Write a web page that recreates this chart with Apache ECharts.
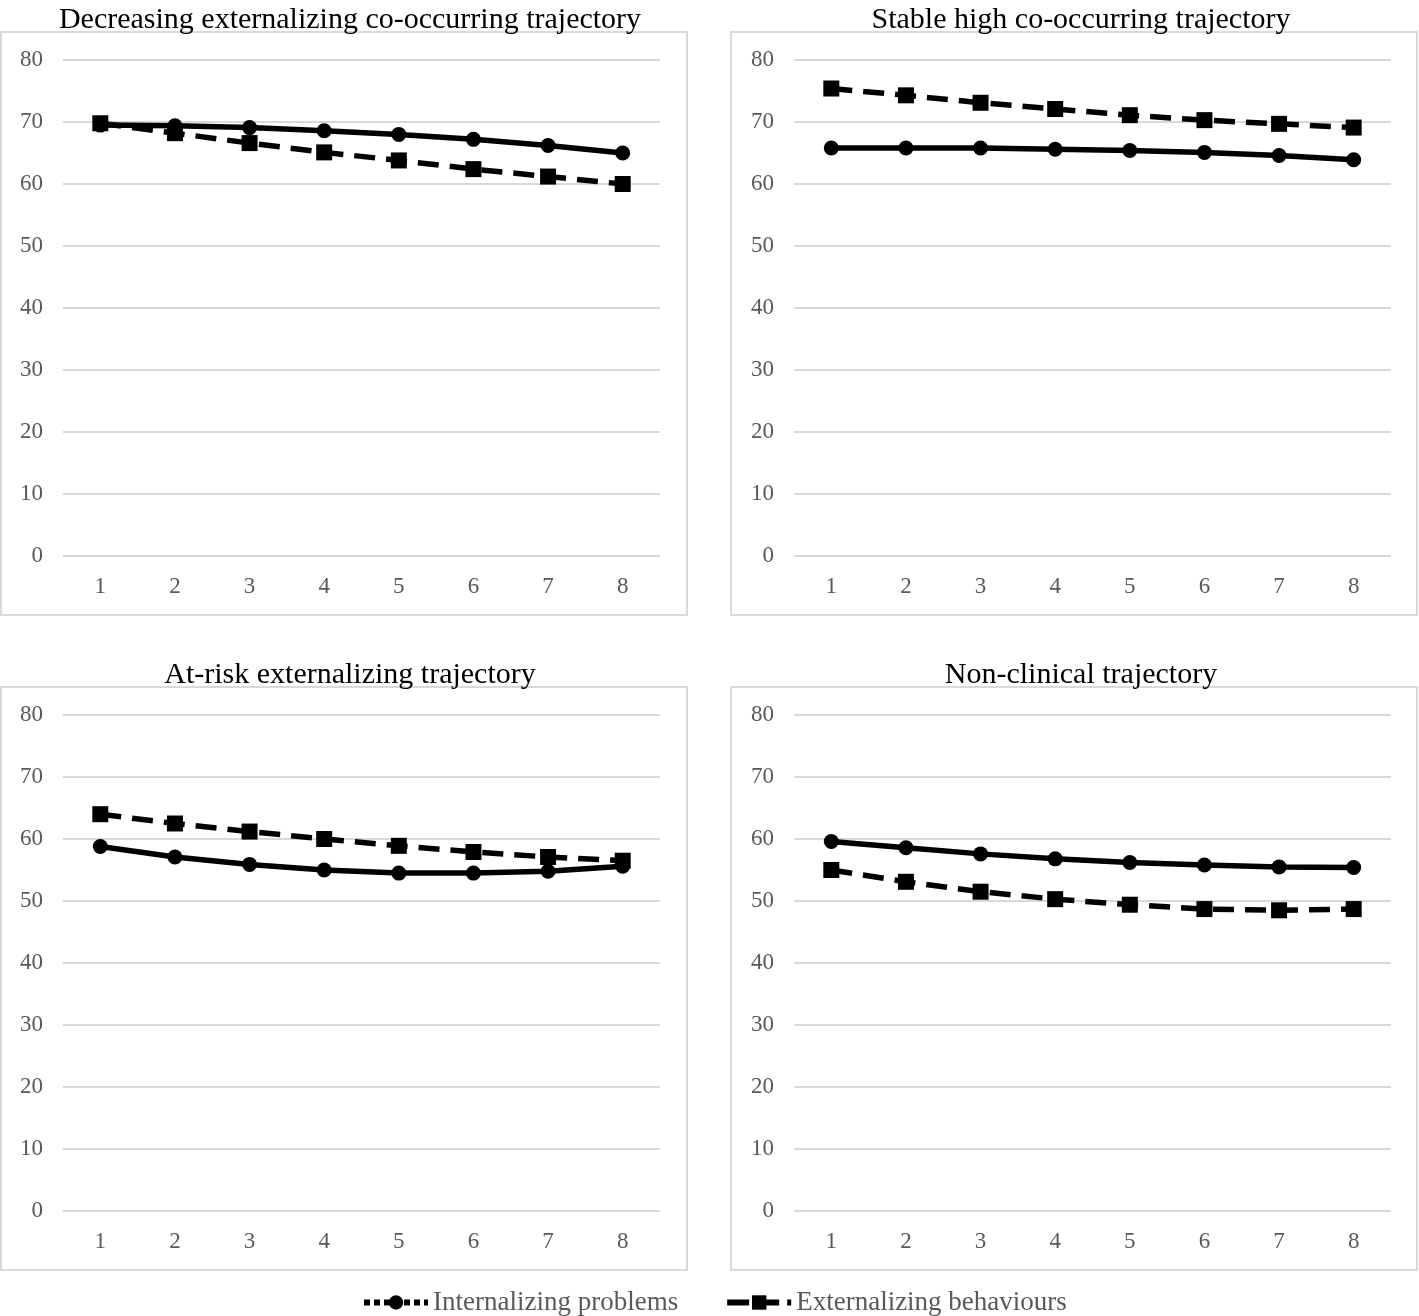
<!DOCTYPE html>
<html>
<head>
<meta charset="utf-8">
<script src="https://cdn.jsdelivr.net/npm/echarts@6/dist/echarts.min.js"></script>
<style>
  html, body { margin: 0; padding: 0; background: #fff; }
  #main { width: 1419px; height: 1316px; }
</style>
</head>
<body>
<div id="main"></div>
<script>
// 数据
var waves = ['1', '2', '3', '4', '5', '6', '7', '8'];
var panelTitles = [
  'Decreasing externalizing co-occurring trajectory',
  'Stable high co-occurring trajectory',
  'At-risk externalizing trajectory',
  'Non-clinical trajectory'
];
// solid line, circles
var internalizing = [
  [69.5, 69.4, 69.1, 68.6, 68.0, 67.2, 66.2, 65.0],
  [65.8, 65.8, 65.8, 65.6, 65.4, 65.1, 64.6, 63.9],
  [58.8, 57.1, 55.9, 55.0, 54.5, 54.5, 54.8, 55.6],
  [59.6, 58.6, 57.6, 56.8, 56.2, 55.8, 55.5, 55.4]
];
// dashed line, squares
var externalizing = [
  [69.8, 68.2, 66.6, 65.1, 63.8, 62.4, 61.2, 60.0],
  [75.4, 74.3, 73.1, 72.1, 71.1, 70.3, 69.7, 69.1],
  [64.0, 62.5, 61.2, 60.0, 58.9, 57.9, 57.1, 56.5],
  [55.0, 53.1, 51.5, 50.3, 49.4, 48.7, 48.5, 48.7]
];
var yTicks = [0, 10, 20, 30, 40, 50, 60, 70, 80];

var font = 'Liberation Serif';
var grey = '#595959';
var lineGrey = '#d9d9d9';

// 面板位置
var panels = [
  { box: [1, 32], grid: [63, 60], cx: 345, ty: 0 },
  { box: [731, 32], grid: [794, 60], cx: 1076, ty: 0 },
  { box: [1, 687], grid: [63, 715], cx: 345, ty: 655 },
  { box: [731, 687], grid: [794, 715], cx: 1076, ty: 655 }
];

var grids = [], xAxes = [], yAxes = [], series = [], titles = [], graphics = [];

panels.forEach(function (p, i) {
  graphics.push({
    type: 'rect',
    shape: { x: p.box[0], y: p.box[1], width: 686, height: 583 },
    style: { fill: 'none', stroke: lineGrey, lineWidth: 2 },
    silent: true
  });
  titles.push({
    text: panelTitles[i],
    left: p.cx,
    top: p.ty,
    textAlign: 'center',
    textStyle: { fontFamily: font, fontSize: 30, fontWeight: 'normal', color: '#000' }
  });
  grids.push({ left: p.grid[0], top: p.grid[1], width: 597, height: 496 });
  xAxes.push({
    type: 'category',
    gridIndex: i,
    data: waves,
    boundaryGap: true,
    axisLine: { show: false },
    axisTick: { show: false },
    axisLabel: { color: grey, fontFamily: font, fontSize: 23, margin: 19 }
  });
  yAxes.push({
    type: 'value',
    gridIndex: i,
    min: yTicks[0],
    max: yTicks[yTicks.length - 1],
    interval: 10,
    axisLine: { show: false },
    axisTick: { show: false },
    axisLabel: { color: grey, fontFamily: font, fontSize: 23, margin: 20 },
    splitLine: { lineStyle: { color: lineGrey, width: 2 } }
  });
  series.push({
    name: 'Internalizing problems',
    type: 'line',
    xAxisIndex: i,
    yAxisIndex: i,
    data: internalizing[i],
    symbol: 'circle',
    symbolSize: 15,
    lineStyle: { color: '#000', width: 5.5, type: 'solid' },
    itemStyle: { color: '#000' },
    z: 2
  });
  series.push({
    name: 'Externalizing behaviours',
    type: 'line',
    xAxisIndex: i,
    yAxisIndex: i,
    data: externalizing[i],
    symbol: 'rect',
    symbolSize: 16,
    lineStyle: { color: '#000', width: 5.5, type: [21, 11] },
    itemStyle: { color: '#000' },
    z: 3
  });
});

var myChart = echarts.init(document.getElementById('main'), null, { renderer: 'canvas' });

myChart.setOption({
  backgroundColor: '#fff',
  animation: false,
  title: titles,
  graphic: graphics,
  legend: {
    left: 356,
    top: 1284,
    itemWidth: 64,
    itemHeight: 18,
    itemGap: 46,
    textStyle: { color: grey, fontFamily: font, fontSize: 27 },
    data: [
      { name: 'Internalizing problems', lineStyle: { type: [6, 4], width: 6 } },
      { name: 'Externalizing behaviours', lineStyle: { type: [22, 8], width: 6 } }
    ]
  },
  grid: grids,
  xAxis: xAxes,
  yAxis: yAxes,
  series: series
});

window.onresize = () => {
  myChart.resize()
}
</script>
</body>
</html>
